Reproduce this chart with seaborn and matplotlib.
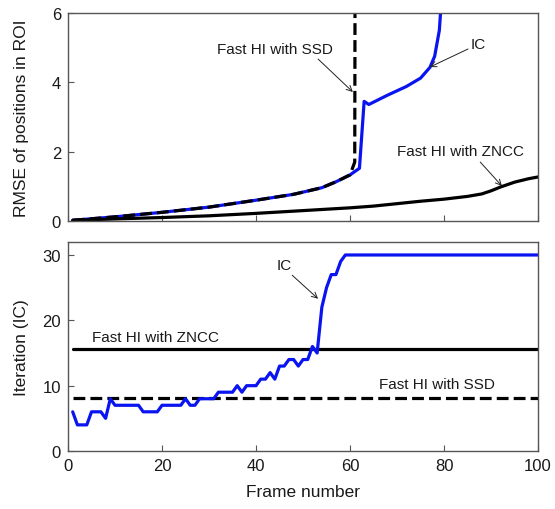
import matplotlib
matplotlib.use("Agg")
import matplotlib.pyplot as plt
import seaborn as sns

# RMSE of positions in ROI (top panel)
ic_rmse_frames = [1, 10, 20, 30, 40, 48, 54, 57, 60, 62, 63, 64, 68, 72, 75, 77, 78, 79, 80]
ic_rmse = [0.02, 0.12, 0.25, 0.4, 0.6, 0.77, 0.96, 1.13, 1.33, 1.52, 3.45, 3.36, 3.63, 3.88, 4.12, 4.43, 4.75, 5.5, 7.5]

ssd_rmse_frames = [1, 10, 20, 30, 40, 48, 54, 57, 60, 61, 62]
ssd_rmse = [0.02, 0.12, 0.25, 0.4, 0.6, 0.77, 0.96, 1.13, 1.33, 1.7, 80.0]

zncc_rmse_frames = [1, 10, 20, 30, 40, 50, 60, 65, 70, 75, 80, 85, 88, 90, 92, 95, 98, 100]
zncc_rmse = [0.02, 0.06, 0.1, 0.15, 0.22, 0.3, 0.38, 0.43, 0.5, 0.57, 0.63, 0.71, 0.78, 0.87, 0.98, 1.12, 1.22, 1.27]

# iterations (bottom panel)
ic_iter_frames = list(range(1, 101))
ic_iter = [6, 4, 4, 4, 6, 6, 6, 5, 8, 7,
           7, 7, 7, 7, 7, 6, 6, 6, 6, 7,
           7, 7, 7, 7, 8, 7, 7, 8, 8, 8,
           8, 9, 9, 9, 9, 10, 9, 10, 10, 10,
           11, 11, 12, 11, 13, 13, 14, 14, 13, 14,
           14, 16, 15, 22, 25, 27, 27, 29, 30, 30,
           30, 30, 30, 30, 30, 30, 30, 30, 30, 30,
           30, 30, 30, 30, 30, 30, 30, 30, 30, 30,
           30, 30, 30, 30, 30, 30, 30, 30, 30, 30,
           30, 30, 30, 30, 30, 30, 30, 30, 30, 30]

zncc_iter_frames = [1, 100]
zncc_iter = [15.6, 15.6]
ssd_iter_frames = [1, 100]
ssd_iter = [8.1, 8.1]

x_ticks = [0, 20, 40, 60, 80, 100]

sns.set_style("ticks")
plt.rcParams["font.family"] = ["Liberation Sans", "DejaVu Sans"]

TXT = "#1a1a1a"
SPINE = "#555555"
BLUE = "#0a14f0"
LW = 2.3

fig = plt.figure(figsize=(5.55, 5.1), dpi=100)
ax1 = fig.add_axes([0.1225, 0.5647, 0.847, 0.408])
ax2 = fig.add_axes([0.1225, 0.1137, 0.847, 0.41])

# top panel
sns.lineplot(x=ic_rmse_frames, y=ic_rmse, ax=ax1, color=BLUE, linewidth=LW)
sns.lineplot(x=ssd_rmse_frames, y=ssd_rmse, ax=ax1, color="black", linewidth=LW, linestyle="--")
sns.lineplot(x=zncc_rmse_frames, y=zncc_rmse, ax=ax1, color="black", linewidth=LW)
ax1.set_ylim(0, 6)
ax1.set_yticks([0, 2, 4, 6])
ax1.set_xticklabels([])
ax1.set_ylabel("RMSE of positions in ROI", fontsize=12.5, color=TXT)

arrow = dict(arrowstyle="->", lw=0.7, color="#222222", shrinkA=0, shrinkB=0)
ax1.text(44, 4.96, "Fast HI with SSD", ha="center", va="center", fontsize=11, color=TXT)
ax1.annotate("", xy=(60.6, 3.72), xytext=(53.2, 4.67), arrowprops=arrow)
ax1.text(87.2, 5.1, "IC", ha="center", va="center", fontsize=11, color=TXT)
ax1.annotate("", xy=(77.0, 4.44), xytext=(85.1, 4.96), arrowprops=arrow)
ax1.text(83.4, 2.02, "Fast HI with ZNCC", ha="center", va="center", fontsize=11, color=TXT)
ax1.annotate("", xy=(92.3, 1.01), xytext=(87.7, 1.70), arrowprops=arrow)

# bottom panel
sns.lineplot(x=zncc_iter_frames, y=zncc_iter, ax=ax2, color="black", linewidth=LW)
sns.lineplot(x=ssd_iter_frames, y=ssd_iter, ax=ax2, color="black", linewidth=LW, linestyle="--")
sns.lineplot(x=ic_iter_frames, y=ic_iter, ax=ax2, color=BLUE, linewidth=LW)
ax2.set_ylim(0, 32)
ax2.set_yticks([0, 10, 20, 30])
ax2.set_xticklabels([str(t) for t in x_ticks])
ax2.set_xlabel("Frame number", fontsize=12.5, color=TXT, labelpad=8)
ax2.set_ylabel("Iteration (IC)", fontsize=12.5, color=TXT)

ax2.text(46, 28.4, "IC", ha="center", va="center", fontsize=11, color=TXT)
ax2.annotate("", xy=(53.2, 23.3), xytext=(47.7, 26.9), arrowprops=arrow)
ax2.text(5.1, 17.5, "Fast HI with ZNCC", ha="left", va="center", fontsize=11, color=TXT)
ax2.text(78.5, 10.3, "Fast HI with SSD", ha="center", va="center", fontsize=11, color=TXT)

for ax in (ax1, ax2):
    ax.set_xlim(0, 100)
    ax.set_xticks(x_ticks)
    ax.yaxis.set_label_coords(-0.083, 0.5)
    ax.tick_params(direction="in", length=4, width=0.8, color=SPINE,
                   labelsize=12, labelcolor=TXT, pad=5)
    for s in ax.spines.values():
        s.set_visible(True)
        s.set_color(SPINE)
        s.set_linewidth(1.0)

fig.savefig("out.png", dpi=100)
